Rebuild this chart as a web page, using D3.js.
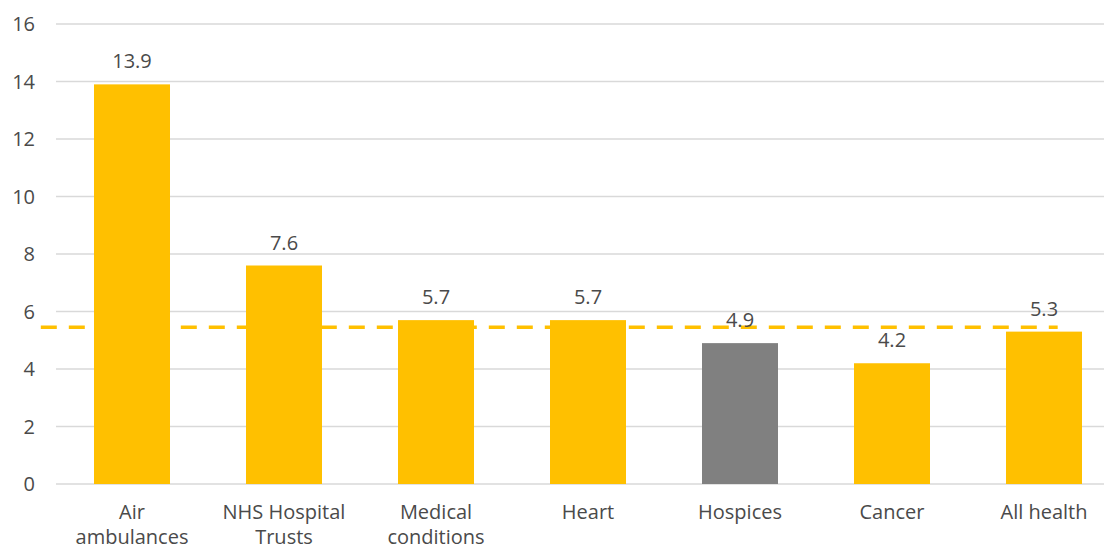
<!DOCTYPE html>
<html>
<head>
<meta charset="utf-8">
<script src="https://cdn.jsdelivr.net/npm/d3@7"></script>
<style>
  body { margin: 0; background: #fff; }
  svg text { font-family: "Open Sans", Lato, sans-serif; fill: #4a4a4a; }
  .grid line { stroke: #d9d9d9; stroke-width: 1.5; }
</style>
</head>
<body>
<script>
const categories = ["Air ambulances", "NHS Hospital Trusts", "Medical conditions", "Heart", "Hospices", "Cancer", "All health"];
const labelLines = [["Air", "ambulances"], ["NHS Hospital", "Trusts"], ["Medical", "conditions"], ["Heart"], ["Hospices"], ["Cancer"], ["All health"]];
const values = [13.9, 7.6, 5.7, 5.7, 4.9, 4.2, 5.3];
const highlight = ["Hospices"];
const yTicks = [0, 2, 4, 6, 8, 10, 12, 14, 16];
const benchmark = 5.45;
const benchmarkSpan = [-0.6, 6.09]; // in category-index units

const W = 1104, H = 549;
const margin = { top: 24, left: 56, bottom: 65 };
const step = 152;

const svg = d3.select(document.body).append('svg')
  .attr('width', W)
  .attr('height', H);

const x = d3.scaleBand()
  .domain(categories)
  .range([margin.left, margin.left + step * categories.length])
  .paddingInner(0.5)
  .paddingOuter(0.25);

const xi = d3.scaleLinear()
  .domain([0, 1])
  .range([x(categories[0]) + x.bandwidth() / 2, x(categories[1]) + x.bandwidth() / 2]);

const y = d3.scaleLinear()
  .domain([0, 16])
  .range([H - margin.bottom, margin.top]);

// grid
svg.append('g')
  .attr('class', 'grid')
  .selectAll('line')
  .data(yTicks)
  .enter().append('line')
  .attr('x1', margin.left)
  .attr('x2', W)
  .attr('y1', d => y(d))
  .attr('y2', d => y(d));

// y tick labels
svg.append('g')
  .selectAll('text')
  .data(yTicks)
  .enter().append('text')
  .attr('x', 35)
  .attr('y', d => y(d))
  .attr('dy', '0.35em')
  .attr('text-anchor', 'end')
  .style('font-size', '20px')
  .text(d => d);

// bars
svg.append('g')
  .selectAll('rect')
  .data(categories)
  .enter().append('rect')
  .attr('x', d => x(d))
  .attr('width', x.bandwidth())
  .attr('y', (d, i) => y(values[i]))
  .attr('height', (d, i) => y(0) - y(values[i]))
  .attr('fill', d => highlight.includes(d) ? '#808080' : '#ffc000');

// benchmark dashed line
svg.append('line')
  .attr('x1', xi(benchmarkSpan[0]))
  .attr('x2', xi(benchmarkSpan[1]))
  .attr('y1', y(benchmark))
  .attr('y2', y(benchmark))
  .attr('stroke', '#ffc000')
  .attr('stroke-width', 3.5)
  .attr('stroke-dasharray', '16,12');

// value labels
svg.append('g')
  .selectAll('text')
  .data(categories)
  .enter().append('text')
  .attr('x', d => x(d) + x.bandwidth() / 2)
  .attr('y', (d, i) => y(values[i]) - 16)
  .attr('text-anchor', 'middle')
  .style('font-size', '20px')
  .text((d, i) => values[i].toFixed(1));

// category labels
const catG = svg.append('g')
  .selectAll('text')
  .data(categories)
  .enter().append('text')
  .attr('x', d => x(d) + x.bandwidth() / 2)
  .attr('y', y(0) + 35)
  .attr('text-anchor', 'middle')
  .style('font-size', '20px');

catG.each(function(d, i) {
  const t = d3.select(this);
  labelLines[i].forEach((line, j) => {
    t.append('tspan')
      .attr('x', x(d) + x.bandwidth() / 2)
      .attr('dy', j === 0 ? 0 : 25)
      .text(line);
  });
});
</script>
</body>
</html>
